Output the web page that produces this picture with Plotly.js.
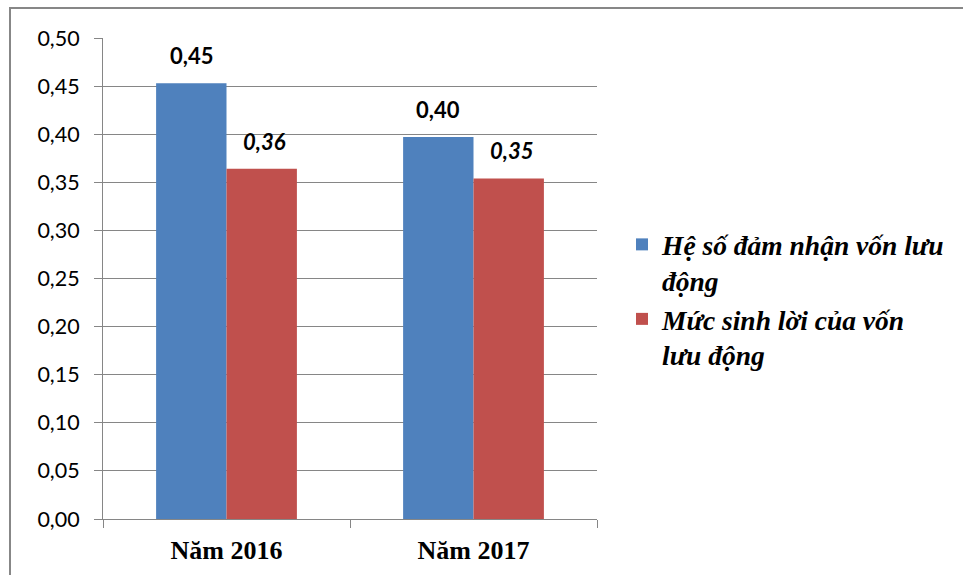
<!DOCTYPE html>
<html>
<head>
<meta charset="utf-8">
<script src="https://cdn.plot.ly/plotly-3.0.1.min.js"></script>
<style>html,body{margin:0;padding:0;background:#fff}#chart{width:963px;height:575px}</style>
</head>
<body>
<div id="chart"></div>
<script>
const categories = ["Năm 2016", "Năm 2017"];
const seriesNames = ["Hệ số đảm nhận vốn lưu<br>động", "Mức sinh lời của vốn<br>lưu động"];
const heSoDamNhan = [0.453, 0.397];
const mucSinhLoi = [0.364, 0.354];
const tickValues = [0, 0.05, 0.10, 0.15, 0.20, 0.25, 0.30, 0.35, 0.40, 0.45, 0.50];

const colors = ["#4F81BD", "#C0504D"];
const bargap = 0.43;
const half = (1 - bargap) / 2;

const traces = [
  {type: "bar", name: seriesNames[0], x: categories, y: heSoDamNhan, marker: {color: colors[0]}, hoverinfo: "y"},
  {type: "bar", name: seriesNames[1], x: categories, y: mucSinhLoi, marker: {color: colors[1]}, hoverinfo: "y"}
];

const fmt = v => v.toFixed(2).replace(".", ",");
const labelFont = {family: "Lato", size: 22, color: "#000"};
const annotations = [];
categories.forEach((c, i) => {
  annotations.push({x: i - half / 2, y: heSoDamNhan[i], xref: "x", yref: "y", text: "<b>" + fmt(heSoDamNhan[i]) + "</b>",
    showarrow: false, yanchor: "bottom", yshift: 12, font: labelFont});
  annotations.push({x: i + half / 2, y: mucSinhLoi[i], xref: "x", yref: "y", text: "<b><i>" + fmt(mucSinhLoi[i]) + "</i></b>",
    showarrow: false, yanchor: "bottom", yshift: 12, xshift: 3, font: labelFont});
});

const L = 103, R = 597, T = 38, B = 519, W = 963, H = 575;
const px = p => (p - L) / (R - L);
const py = p => (B - p) / (B - T);

const layout = {
  width: W, height: H,
  margin: {l: L, r: W - R, t: T, b: H - B, pad: 0},
  paper_bgcolor: "#fff", plot_bgcolor: "#fff",
  separators: ",.",
  barmode: "group", bargap: bargap, bargroupgap: 0,
  showlegend: true,
  xaxis: {
    type: "category", showgrid: false, showline: true, linecolor: "#868686", linewidth: 1,
    ticks: "outside", tickson: "boundaries", ticklen: 8, tickcolor: "#868686",
    ticklabelstandoff: 8,
    tickfont: {family: "Liberation Serif", size: 26, color: "#000", weight: "bold"}
  },
  yaxis: {
    range: [0, 0.5], tickvals: tickValues, tickformat: ".2f",
    showgrid: true, gridcolor: "#868686", gridwidth: 1,
    showline: true, linecolor: "#868686", linewidth: 1,
    ticks: "outside", ticklen: 8, tickcolor: "#868686", ticklabelstandoff: 10,
    zeroline: false,
    tickfont: {family: "Lato", size: 21.5, color: "#000"}
  },
  legend: {
    x: px(622), y: py(220), xanchor: "left", yanchor: "top",
    valign: "top", tracegroupgap: 6, itemwidth: 30,
    font: {family: "Liberation Serif", size: 27.5, color: "#000", style: "italic", weight: "bold"},
    bgcolor: "rgba(0,0,0,0)"
  },
  annotations: annotations,
  shapes: [{type: "rect", xref: "paper", yref: "paper", x0: px(10), x1: px(1000), y0: py(8), y1: py(600),
    line: {color: "#878787", width: 2}, fillcolor: "rgba(0,0,0,0)", layer: "below"}]
};

Plotly.newPlot("chart", traces, layout, {displayModeBar: false, staticPlot: true});
</script>
</body>
</html>
